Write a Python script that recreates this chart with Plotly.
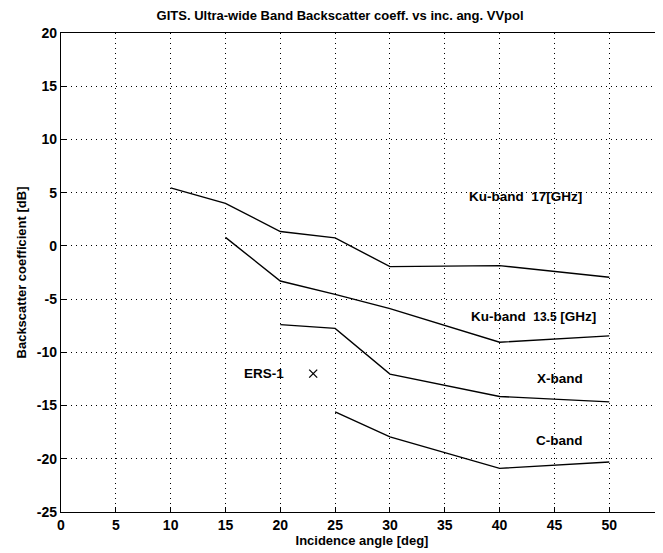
import plotly.graph_objects as go

ku17_x = [10, 15, 20, 25, 30, 40, 50]
ku17_y = [5.45, 4.0, 1.35, 0.75, -1.95, -1.85, -2.95]

ku135_x = [15, 20, 25, 30, 40, 50]
ku135_y = [0.8, -3.3, -4.55, -5.9, -9.05, -8.45]

xband_x = [20, 25, 30, 40, 50]
xband_y = [-7.4, -7.75, -12.05, -14.15, -14.65]

cband_x = [25, 30, 40, 50]
cband_y = [-15.6, -17.95, -20.9, -20.3]

ers_x = [23]
ers_y = [-12]

x_ticks = [0, 5, 10, 15, 20, 25, 30, 35, 40, 45, 50]
y_ticks = [-25, -20, -15, -10, -5, 0, 5, 10, 15, 20]

labels = [
    ("Ku-band  17[GHz]", 42.4, 4.6),
    ("Ku-band  <span style='font-size:12px'>13.5</span> [GHz]", 43.1, -6.6),
    ("X-band", 45.5, -12.45),
    ("C-band", 45.5, -18.3),
    ("ERS-1", 18.5, -12.0),
]

font = "Liberation Sans, Arial, Helvetica, sans-serif"

fig = go.Figure()
line = dict(color="black", width=1.4)
for xs, ys in [(ku17_x, ku17_y), (ku135_x, ku135_y), (xband_x, xband_y), (cband_x, cband_y)]:
    fig.add_trace(go.Scatter(x=xs, y=ys, mode="lines", line=line, showlegend=False))
fig.add_trace(go.Scatter(x=ers_x, y=ers_y, mode="markers",
                         marker=dict(symbol="x-thin", size=8, line=dict(color="black", width=1.3)),
                         showlegend=False))

for txt, x, y in labels:
    fig.add_annotation(x=x, y=y, text=txt, showarrow=False,
                       font=dict(family=font, size=13.5, color="black", weight="bold"))

# page has an 8px body margin: figure is 655x545 placed at (8, 8)
fig.update_layout(
    width=655, height=545,
    margin=dict(l=53, r=0, t=25, b=41, autoexpand=False),
    paper_bgcolor="white", plot_bgcolor="white",
    title=dict(text="GITS. Ultra-wide Band Backscatter coeff. vs inc. ang. VVpol",
               x=0.507, xanchor="center", y=0.986, yanchor="middle",
               font=dict(family=font, size=13, color="black", weight="bold")),
    font=dict(family=font, color="black"),
)
grid = dict(showgrid=True, gridcolor="black", griddash="1px,4px", gridwidth=1.2,
            showline=True, linecolor="black", linewidth=1.4, mirror=True,
            ticks="inside", ticklen=5, tickcolor="black", tickwidth=1.2,
            zeroline=False, automargin=False)
fig.update_xaxes(range=[0, 54.9], tickvals=x_ticks, ticktext=[str(t) for t in x_ticks],
                 tickfont=dict(family=font, size=14, color="black", weight="bold"),
                 title=dict(text="Incidence angle [deg]", font=dict(family=font, size=13, color="black", weight="bold"), standoff=0),
                 **grid)
fig.update_yaxes(range=[-25, 20], tickvals=y_ticks, ticktext=[str(t) for t in y_ticks],
                 tickfont=dict(family=font, size=14, color="black", weight="bold"),
                 title=dict(text="Backscatter coefficient [dB]", font=dict(family=font, size=13, color="black", weight="bold"), standoff=7),
                 **grid)

fig.write_html("out.html")
